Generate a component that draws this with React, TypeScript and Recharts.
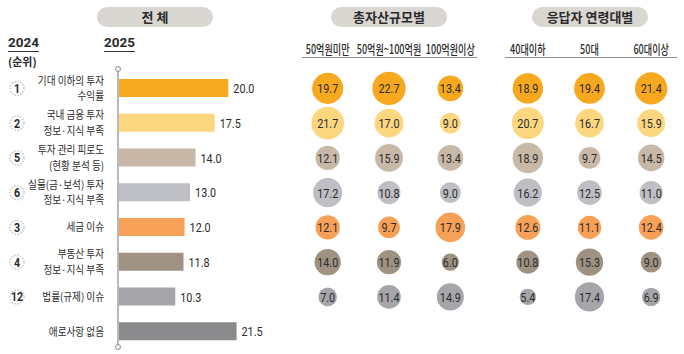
import React from 'react';
import {
  BarChart, Bar, XAxis, YAxis, Cell, LabelList, ReferenceLine,
  ScatterChart, Scatter, ZAxis,
} from 'recharts';

// ---------- DATA ----------
const categories = [
  '기대 이하의 투자\n수익률',
  '국내 금융 투자\n정보·지식 부족',
  '투자 관리 피로도\n(현황 분석 등)',
  '실물(금·보석) 투자\n정보·지식 부족',
  '세금 이슈',
  '부동산 투자\n정보·지식 부족',
  '법률(규제) 이슈',
  '애로사항 없음',
];
const ranks2024 = ['1', '2', '5', '6', '3', '4', '12', ''];
const totalValues = [20.0, 17.5, 14.0, 13.0, 12.0, 11.8, 10.3, 21.5];
const rowColors = ['#F6A81F', '#FDD680', '#C8B8A8', '#BEBFC4', '#F7A057', '#9F9283', '#A6A6AA', '#8B8B8D'];

const assetGroups = ['50억원미만', '50억원~100억원', '100억원이상'];
const assetValues = [
  [19.7, 22.7, 13.4],
  [21.7, 17.0, 9.0],
  [12.1, 15.9, 13.4],
  [17.2, 10.8, 9.0],
  [12.1, 9.7, 17.9],
  [14.0, 11.9, 6.0],
  [7.0, 11.4, 14.9],
];
const ageGroups = ['40대이하', '50대', '60대이상'];
const ageValues = [
  [18.9, 19.4, 21.4],
  [20.7, 16.7, 15.9],
  [18.9, 9.7, 14.5],
  [16.2, 12.5, 11.0],
  [12.6, 11.1, 12.4],
  [10.8, 15.3, 9.0],
  [5.4, 17.4, 6.9],
];

// ---------- styles ----------
const KR = "'Noto Sans CJK KR', 'Noto Sans', sans-serif";
const NUM = "'Roboto', 'DejaVu Sans', sans-serif";
const PILL_BG = '#DAD7D3';
const TEXT = '#2b2b2b';
const NUM_SCALE = 0.8;
const KR_SCALE = 0.89;

const barData = categories.map((name, i) => ({ name, value: totalValues[i], rank: ranks2024[i], idx: i }));

const toBubbles = (groups: string[], values: number[][]) => {
  const out: { col: number; row: number; v: number; label: string }[] = [];
  values.forEach((rowVals, r) => {
    rowVals.forEach((v, c) => out.push({ col: c, row: r, v, label: groups[c] }));
  });
  return out;
};
const assetBubbles = toBubbles(assetGroups, assetValues);
const ageBubbles = toBubbles(ageGroups, ageValues);

const CategoryTick = (props: any) => {
  const { x, y, payload, index } = props;
  const lines = String(payload.value).split('\n');
  const rank = ranks2024[index];
  const lh = 15.7;
  const startY = y - ((lines.length - 1) * lh) / 2;
  return (
    <g>
      <text transform={`translate(${x},${startY + 4}) scale(${KR_SCALE},1)`}
        textAnchor="end" fontSize={10.8} fontFamily={KR} fill={TEXT}>
        {lines.map((ln, i) => (
          <tspan key={i} x={0} dy={i === 0 ? 0 : lh}>{ln}</tspan>
        ))}
      </text>
      {rank ? (
        <g>
          <circle cx={x - 87} cy={y} r={7} fill="none" stroke="#C9C9C9" strokeWidth={1.6} strokeDasharray="1.5 1.5" />
          <text transform={`translate(${x - 87},${y + 4.5}) scale(0.85,1)`} textAnchor="middle" fontSize={12.5}
            fontWeight={700} fontFamily={NUM} fill={TEXT}>{rank}</text>
        </g>
      ) : null}
    </g>
  );
};

const AxisLineShape = (props: any) => {
  const { x1, y1, x2, y2 } = props;
  return (
    <g>
      <line x1={x1 - 1} y1={y1 - 1} x2={x2 - 1} y2={y2 - 3} stroke="#8A8A8A" strokeWidth={1.2} />
      <circle cx={x1 - 1} cy={y1 - 2} r={2.5} fill="#fff" stroke="#8A8A8A" strokeWidth={1} />
      <circle cx={x2 - 1} cy={y2 - 2} r={2.5} fill="#fff" stroke="#8A8A8A" strokeWidth={1} />
    </g>
  );
};

const BarValueLabel = (props: any) => {
  const { x, y, width, height, value } = props;
  return (
    <text transform={`translate(${x + width + 5},${y + height / 2 + 5}) scale(${NUM_SCALE},1)`}
      textAnchor="start" fontSize={13.5} fontFamily={NUM} fill={TEXT}>
      {Number(value).toFixed(1)}
    </text>
  );
};

const BubbleShape = (props: any) => {
  const { cx, cy, width, payload } = props;
  const r = width / 2;
  return (
    <g>
      <circle cx={cx} cy={cy} r={r} fill={rowColors[payload.row]} />
      <text transform={`translate(${cx},${cy + 5}) scale(${NUM_SCALE},1)`} textAnchor="middle"
        fontSize={13.5} fontFamily={NUM} fill={TEXT}>
        {payload.v.toFixed(1)}
      </text>
    </g>
  );
};

const ColTick = (props: any) => {
  const { x, y, payload, labels } = props;
  return (
    <text transform={`translate(${x},${y - 9}) scale(0.7,1)`} textAnchor="middle" fontSize={13}
      fontWeight={500} fontFamily={KR} fill={TEXT}>{labels[payload.value]}</text>
  );
};

const BubbleChart = ({ data, labels, width }: { data: any[]; labels: string[]; width: number }) => (
  <ScatterChart width={width} height={354} margin={{ top: 47, bottom: 5, left: 0, right: 0 }}>
    <XAxis type="number" dataKey="col" domain={[-0.5, 2.5]} ticks={[0, 1, 2]} orientation="top"
      height={24} axisLine={false} tickLine={false} interval={0}
      tick={<ColTick labels={labels} />} />
    <YAxis type="number" dataKey="row" domain={[-0.5, 7.5]} reversed hide />
    <ZAxis type="number" dataKey="v" domain={[0, 25]} range={[0, 962]} />
    <Scatter data={data} isAnimationActive={false} shape={<BubbleShape />} />
  </ScatterChart>
);

const Pill = ({ left, width, text }: { left: number; width: number; text: string }) => (
  <div style={{
    position: 'absolute', left, top: 7, width, height: 20, borderRadius: 10, background: PILL_BG,
    textAlign: 'center', lineHeight: '20px', fontFamily: KR, fontWeight: 700, fontSize: 13, color: TEXT,
  }}>{text}</div>
);

export default function App() {
  return (
    <div style={{ position: 'absolute', left: 0, top: 0, width: 684, height: 354, background: '#fff', overflow: 'hidden' }}>
      <Pill left={97} width={116} text="전 체" />
      <Pill left={331} width={116} text="총자산규모별" />
      <Pill left={532} width={116} text="응답자 연령대별" />

      <div style={{ position: 'absolute', left: 8, top: 35, fontFamily: NUM, fontWeight: 700, fontSize: 13.5, color: TEXT, lineHeight: '15px' }}>
        <span style={{ borderBottom: '1px solid #333', paddingBottom: 1 }}>2024</span>
      </div>
      <div style={{ position: 'absolute', left: 8, top: 55, fontFamily: KR, fontWeight: 700, fontSize: 11, color: TEXT, lineHeight: '13px' }}>
        (순위)
      </div>
      <div style={{ position: 'absolute', left: 104, top: 35, fontFamily: NUM, fontWeight: 700, fontSize: 13.5, color: TEXT, lineHeight: '15px' }}>
        <span style={{ borderBottom: '1px solid #333', paddingBottom: 1 }}>2025</span>
      </div>

      <div style={{ position: 'absolute', left: 302, top: 57, width: 175, height: 1, background: '#8A8A8A' }} />
      <div style={{ position: 'absolute', left: 505, top: 57, width: 172, height: 1, background: '#8A8A8A' }} />

      <div style={{ position: 'absolute', left: 0, top: 0 }}>
        <BarChart width={285} height={354} layout="vertical" data={barData}
          margin={{ top: 71, bottom: 5, left: 0, right: 2 }} barCategoryGap={0}>
          <XAxis type="number" domain={[0, 30]} hide />
          <YAxis type="category" dataKey="name" width={119} axisLine={false} tickLine={false}
            tickMargin={9} interval={0} tick={<CategoryTick />} />
          <Bar dataKey="value" barSize={18} isAnimationActive={false}>
            {barData.map((d) => <Cell key={d.idx} fill={rowColors[d.idx]} />)}
            <LabelList dataKey="value" content={<BarValueLabel />} />
          </Bar>
          <ReferenceLine x={0} shape={<AxisLineShape />} ifOverflow="visible" />
        </BarChart>
      </div>

      <div style={{ position: 'absolute', left: 297, top: 0 }}>
        <BubbleChart data={assetBubbles} labels={assetGroups} width={184} />
      </div>
      <div style={{ position: 'absolute', left: 497, top: 0 }}>
        <BubbleChart data={ageBubbles} labels={ageGroups} width={185} />
      </div>
    </div>
  );
}
